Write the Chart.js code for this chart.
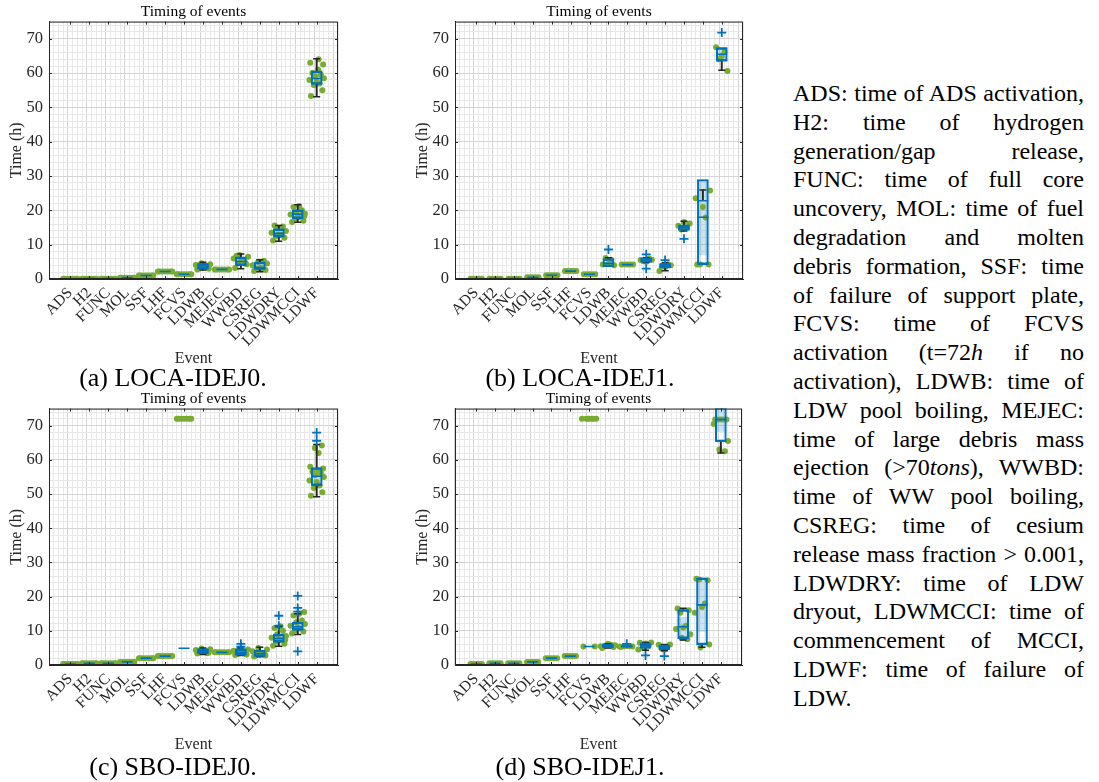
<!DOCTYPE html>
<html>
<head>
<meta charset="utf-8">
<script src="https://cdn.jsdelivr.net/npm/chart.js@4.4.0/dist/chart.umd.min.js"></script>
<style>
  body { margin: 0; background: #fff; width: 1099px; height: 782px; position: relative; overflow: hidden;
         font-family: "Liberation Serif", "Times New Roman", serif; color: #000; }
  canvas { position: absolute; }
  .cap { position: absolute; font-size: 26px; white-space: nowrap; transform: translate(-50%, -50%); }
  #notes { position: absolute; left: 793px; top: 79px; width: 291px; font-size: 24px; line-height: 28.8px; }
  #notes div { text-align: justify; text-align-last: justify; }
  #notes div.last { text-align-last: left; }
</style>
</head>
<body>
<canvas id="pa" width="387" height="368" style="left:0;top:0"></canvas>
<canvas id="pb" width="386" height="368" style="left:406px;top:0"></canvas>
<canvas id="pc" width="387" height="367" style="left:0;top:387px"></canvas>
<canvas id="pd" width="385" height="367" style="left:406px;top:387px"></canvas>

<div class="cap" style="left:173px;top:378px">(a) LOCA-IDEJ0.</div>
<div class="cap" style="left:580px;top:378px">(b) LOCA-IDEJ1.</div>
<div class="cap" style="left:173px;top:767px">(c) SBO-IDEJ0.</div>
<div class="cap" style="left:580px;top:767px">(d) SBO-IDEJ1.</div>

<div id="notes">
  <div>ADS: time of ADS activation,</div>
  <div>H2: time of hydrogen</div>
  <div>generation/gap release,</div>
  <div>FUNC: time of full core</div>
  <div>uncovery, MOL: time of fuel</div>
  <div>degradation and molten</div>
  <div>debris formation, SSF: time</div>
  <div>of failure of support plate,</div>
  <div>FCVS: time of FCVS</div>
  <div>activation (t=72<i>h</i> if no</div>
  <div>activation), LDWB: time of</div>
  <div>LDW pool boiling, MEJEC:</div>
  <div>time of large debris mass</div>
  <div>ejection (&gt;70<i>tons</i>), WWBD:</div>
  <div>time of WW pool boiling,</div>
  <div>CSREG: time of cesium</div>
  <div>release mass fraction &gt; 0.001,</div>
  <div>LDWDRY: time of LDW</div>
  <div>dryout, LDWMCCI: time of</div>
  <div>commencement of MCCI,</div>
  <div>LDWF: time of failure of</div>
  <div class="last">LDW.</div>
</div>

<script>
const EVENTS = ['ADS', 'H2', 'FUNC', 'MOL', 'SSF', 'LHF', 'FCVS', 'LDWB', 'MEJEC', 'WWBD', 'CSREG', 'LDWDRY', 'LDWMCCI', 'LDWF'];

// (a) LOCA-IDEJ0
const aMed = [0.05, 0.1, 0.1, 0.4, 1.0, 2.2, 1.4, 3.8, 2.8, 5.1, 3.3, 13.3, 18.9, 58.4];
const aQ1 = [0.05, 0.1, 0.1, 0.4, 1.0, 2.2, 1.4, 3.0, 2.8, 4.0, 2.9, 12.4, 17.7, 56.9];
const aQ3 = [0.05, 0.1, 0.1, 0.4, 1.0, 2.2, 1.4, 4.4, 2.8, 6.3, 4.8, 14.5, 20.0, 60.5];
const aLo = [0.05, 0.1, 0.1, 0.4, 1.0, 2.2, 1.4, 2.6, 2.8, 3.0, 2.1, 11.0, 16.5, 53.1];
const aHi = [0.05, 0.1, 0.1, 0.4, 1.0, 2.2, 1.4, 4.9, 2.8, 7.3, 5.6, 15.6, 21.6, 64.2];
const aNotch = [0, 0, 0, 0, 0, 0, 0, 0, 0, 0, 0, 0, 0, 1.6];
const aOut = [[], [], [], [], [], [], [], [], [], [], [], [], [], []];
const aPts = [
  [0.05, 0.05, 0.05, 0.05, 0.05, 0.05, 0.05],
  [0.1, 0.1, 0.1, 0.1, 0.1, 0.1, 0.1],
  [0.1, 0.1, 0.1, 0.1, 0.1, 0.1, 0.1],
  [0.4, 0.4, 0.4, 0.4, 0.4, 0.4, 0.4],
  [1.0, 1.0, 1.0, 1.0, 1.0, 1.0, 1.0],
  [2.2, 2.2, 2.2, 2.2, 2.2, 2.2, 2.2],
  [1.4, 1.4, 1.4, 1.4, 1.4, 1.4, 1.4],
  [2.8, 3.0, 3.4, 3.7, 3.9, 4.1, 4.3, 4.6, 3.5, 4.0],
  [2.8, 2.8, 2.8, 2.8, 2.8, 2.8, 2.8],
  [3.2, 4.3, 4.6, 5.0, 5.5, 6.0, 6.5, 7.0, 4.8, 6.8],
  [2.3, 2.6, 2.9, 3.1, 3.3, 4.0, 4.5, 5.0, 5.3, 3.0],
  [11.2, 12.0, 12.5, 12.8, 13.0, 13.5, 14.0, 14.8, 15.3, 15.6, 12.9],
  [16.6, 17.0, 17.5, 18.0, 18.5, 18.8, 19.0, 19.5, 20.0, 21.0, 21.3, 18.3],
  [53.3, 55.0, 56.5, 57.0, 57.5, 58.0, 58.5, 59.0, 59.5, 60.0, 61.0, 62.5, 63.0, 64.0]
];

// (b) LOCA-IDEJ1
const bMed = [0.05, 0.1, 0.1, 0.5, 1.1, 2.3, 1.4, 4.6, 4.2, 5.4, 3.8, 15.0, 18.0, 65.5];
const bQ1 = [0.05, 0.1, 0.1, 0.5, 1.1, 2.3, 1.4, 3.7, 4.2, 5.0, 3.3, 14.3, 4.3, 63.6];
const bQ3 = [0.05, 0.1, 0.1, 0.5, 1.1, 2.3, 1.4, 5.8, 4.2, 6.0, 4.4, 15.6, 22.8, 67.3];
const bLo = [0.05, 0.1, 0.1, 0.5, 1.1, 2.3, 1.4, 3.7, 4.2, 4.8, 2.4, 14.0, 4.3, 60.8];
const bHi = [0.05, 0.1, 0.1, 0.5, 1.1, 2.3, 1.4, 6.2, 4.2, 6.2, 4.7, 16.8, 25.9, 67.3];
const bNotch = [0, 0, 0, 0, 0, 0, 0, 0, 0, 0, 0, 0, 11.0, 1.8];
const bOut = [[], [], [], [], [], [], [], [8.6], [], [7.2, 3.0], [5.5], [11.7], [], [71.8]];
const bPts = [
  [0.05, 0.05, 0.05, 0.05, 0.05],
  [0.1, 0.1, 0.1, 0.1, 0.1],
  [0.1, 0.1, 0.1, 0.1, 0.1],
  [0.5, 0.5, 0.5, 0.5, 0.5],
  [1.1, 1.1, 1.1, 1.1, 1.1],
  [2.3, 2.3, 2.3, 2.3, 2.3],
  [1.4, 1.4, 1.4, 1.4, 1.4],
  [4.2, 4.0, 6.1, 5.6, 4.4],
  [4.2, 4.2, 4.2, 4.2, 4.2],
  [5.5, 5.6, 5.2, 6.0, 5.0],
  [2.3, 4.0, 3.8, 4.3, 3.5],
  [15.5, 16.2, 14.4, 15.0, 16.6],
  [4.2, 4.2, 4.2, 17.9, 21.0, 23.5, 25.8],
  [67.5, 60.6, 64.0, 66.2, 65.0]
];

// (c) SBO-IDEJ0
const cMed = [0.3, 0.5, 0.5, 0.9, 2.0, 2.6, 4.9, 4.0, 3.7, 3.7, 3.3, 7.8, 11.2, 55.2];
const cQ1 = [0.3, 0.5, 0.5, 0.9, 2.0, 2.6, 4.9, 3.4, 3.7, 3.0, 2.6, 6.8, 10.3, 52.6];
const cQ3 = [0.3, 0.5, 0.5, 0.9, 2.0, 2.6, 4.9, 4.6, 3.7, 4.6, 4.2, 8.9, 12.4, 57.6];
const cLo = [0.3, 0.5, 0.5, 0.9, 2.0, 2.6, 4.9, 3.1, 3.7, 2.8, 2.4, 5.5, 8.9, 49.2];
const cHi = [0.3, 0.5, 0.5, 0.9, 2.0, 2.6, 4.9, 5.0, 3.7, 5.0, 5.2, 11.2, 15.0, 64.5];
const cNotch = [0, 0, 0, 0, 0, 0, 0, 0, 0, 0, 0, 0, 0, 2.0];
const cOut = [[], [], [], [], [], [], [], [], [], [6.2, 5.4], [], [11.5, 14.4], [20.2, 16.7, 15.6, 4.0], [68.0, 65.6]];
const cPts = [
  [0.3, 0.3, 0.3, 0.3, 0.3, 0.3, 0.3],
  [0.5, 0.5, 0.5, 0.5, 0.5, 0.5, 0.5],
  [0.5, 0.5, 0.5, 0.5, 0.5, 0.5, 0.5],
  [0.9, 0.9, 0.9, 0.9, 0.9, 0.9, 0.9],
  [2.0, 2.0, 2.0, 2.0, 2.0, 2.0, 2.0],
  [2.6, 2.6, 2.6, 2.6, 2.6, 2.6, 2.6],
  [72, 72, 72, 72, 72, 72, 72],
  [3.4, 3.6, 3.8, 4.0, 4.2, 4.4, 4.6, 4.8, 3.5, 4.1],
  [3.7, 3.7, 3.7, 3.7, 3.7, 3.7, 3.7],
  [2.9, 3.1, 3.3, 3.6, 3.9, 4.2, 4.5, 4.8, 3.5],
  [2.5, 2.8, 3.0, 3.3, 3.6, 4.0, 4.5, 5.0, 3.2],
  [5.6, 6.2, 6.8, 7.2, 7.6, 8.0, 8.5, 9.0, 10.0, 10.8, 11.3, 7.4],
  [9.2, 9.8, 10.2, 10.6, 11.0, 11.5, 12.0, 12.5, 13.0, 14.5, 15.0, 15.5],
  [49.5, 50.5, 51.8, 52.5, 53.5, 54.0, 55.0, 55.5, 56.0, 56.5, 57.0, 57.5, 58.0, 62.0, 63.5, 64.2]
];

// (d) SBO-IDEJ1
const dMed = [0.3, 0.5, 0.5, 0.9, 2.0, 2.6, 5.4, 5.6, 5.5, 5.7, 5.3, 11.2, 17.6, 71.8];
const dQ1 = [0.3, 0.5, 0.5, 0.9, 2.0, 2.6, 5.4, 5.2, 5.3, 5.0, 4.6, 7.8, 6.0, 65.4];
const dQ3 = [0.3, 0.5, 0.5, 0.9, 2.0, 2.6, 5.4, 6.0, 5.6, 6.3, 5.7, 16.1, 25.2, 71.8];
const dLo = [0.3, 0.5, 0.5, 0.9, 2.0, 2.6, 5.4, 5.0, 5.3, 4.3, 4.2, 7.3, 5.2, 62.0];
const dHi = [0.3, 0.5, 0.5, 0.9, 2.0, 2.6, 5.4, 6.2, 5.6, 6.6, 6.0, 16.6, 25.3, 71.8];
const dNotch = [0, 0, 0, 0, 0, 0, 0, 0, 0, 0, 0, 2.7, 7.8, 3.5];
const dOut = [[], [], [], [], [], [], [], [], [6.2], [2.8], [2.6], [], [], []];
const dPts = [
  [0.3, 0.3, 0.3, 0.3, 0.3],
  [0.5, 0.5, 0.5, 0.5, 0.5],
  [0.5, 0.5, 0.5, 0.5, 0.5],
  [0.9, 0.9, 0.9, 0.9, 0.9],
  [2.0, 2.0, 2.0, 2.0, 2.0],
  [2.6, 2.6, 2.6, 2.6, 2.6],
  [5.4, 5.4, 72, 72, 72, 72, 72, 72, 72],
  [5.0, 5.3, 5.6, 5.9, 6.2, 5.5, 5.8],
  [5.3, 5.4, 5.5, 5.5, 5.6, 5.4],
  [6.5, 6.6, 5.0, 5.6, 6.3, 4.5],
  [5.9, 6.0, 4.8, 5.3, 4.5],
  [16.5, 16.0, 15.3, 11.5, 11.0, 10.5, 9.0, 8.0, 7.5],
  [25.2, 24.8, 25.0, 18.0, 17.0, 15.3, 6.0, 5.1],
  [71.8, 71.8, 71.8, 71.8, 71.8, 70.5, 65.5, 63.0, 62.5]
];

// horizontal spread of the swarm dots, in category units
const JIT = [-0.3, 0.3, -0.15, 0.15, 0, -0.38, 0.38, -0.08, 0.22, -0.22, 0.08, 0.34, -0.34, 0.1, -0.1, 0.27];

const SERIF = '"Liberation Serif", "Times New Roman", serif';
const INK = '#262626';
const BLUE = '#0072BD';
const GREEN = '#77AC30';

// axes box with inward tick marks, like the original figure
const axesBox = {
  id: 'axesBox',
  afterDraw(chart) {
    const { ctx, chartArea: a, scales } = chart;
    ctx.save();
    ctx.strokeStyle = INK;
    ctx.lineWidth = 1;
    ctx.strokeRect(a.left + 0.5, a.top + 0.5, a.width - 1, a.height - 1);
    ctx.beginPath();
    for (let i = 1; i <= EVENTS.length; i++) {
      const px = Math.round(scales.x.getPixelForValue(i)) + 0.5;
      ctx.moveTo(px, a.bottom); ctx.lineTo(px, a.bottom - 3);
      ctx.moveTo(px, a.top); ctx.lineTo(px, a.top + 3);
    }
    for (let v = 0; v <= 70; v += 10) {
      const py = Math.round(scales.y.getPixelForValue(v)) + 0.5;
      ctx.moveTo(a.left, py); ctx.lineTo(a.left + 3, py);
      ctx.moveTo(a.right, py); ctx.lineTo(a.right - 3, py);
    }
    ctx.stroke();
    ctx.restore();
  }
};

function gridColor(isMajor) {
  return c => (c.tick && isMajor(c.tick.value)) ? '#d4d4d4' : '#e8e8e8';
}

function drawPanel(id, d) {
  const shade = [], frame = [], wLow = [], wHigh = [], caps = [], quart = [], mids = [], outs = [], dots = [];
  EVENTS.forEach((e, i) => {
    const x = i + 1;
    const q1 = d.q1[i], q3 = d.q3[i], m = d.med[i], n = d.notch[i];
    const nLo = n ? m - n : q1, nHi = n ? m + n : q3;
    const bot = Math.min(q1, nLo), top = Math.max(q3, nHi);
    if (top > bot) {
      frame.push({ x, y: [bot, top] });
      shade.push({ x, y: [nLo, nHi] });
      quart.push({ x, y: q1 }, { x, y: q3 });
    }
    if (d.lo[i] < q1) { wLow.push({ x, y: [d.lo[i], q1] }); caps.push({ x, y: d.lo[i] }); }
    if (d.hi[i] > q3) { wHigh.push({ x, y: [q3, d.hi[i]] }); caps.push({ x, y: d.hi[i] }); }
    mids.push({ x, y: m });
    d.out[i].forEach(v => outs.push({ x, y: v }));
    d.pts[i].forEach((v, k) => dots.push({ x: x + JIT[k % JIT.length], y: v }));
  });

  const bar = (data, extra) => Object.assign({
    type: 'bar', data, grouped: false, borderSkipped: false, barThickness: 11
  }, extra);
  const mark = (data, extra) => Object.assign({ type: 'scatter', data, borderWidth: 0 }, extra);

  const axisFont = { family: SERIF, size: 16 };

  new Chart(document.getElementById(id), {
    type: 'scatter',
    data: {
      datasets: [
        mark(outs, { order: 1, pointStyle: 'cross', radius: 4.5, borderWidth: 1.8, borderColor: BLUE }),
        mark(mids, { order: 2, pointStyle: 'line', radius: 5.5, borderWidth: 1.6, borderColor: BLUE }),
        mark(quart, { order: 2, pointStyle: 'line', radius: 5.5, borderWidth: 1.4, borderColor: BLUE }),
        bar(frame, { order: 3, backgroundColor: 'rgba(0,0,0,0)', borderColor: BLUE, borderWidth: 1.4 }),
        mark(caps, { order: 4, pointStyle: 'line', radius: 3.5, borderWidth: 1.5, borderColor: INK }),
        bar(wLow, { order: 5, barThickness: 1.3, backgroundColor: INK, borderWidth: 0 }),
        bar(wHigh, { order: 5, barThickness: 1.3, backgroundColor: INK, borderWidth: 0 }),
        mark(dots, { order: 6, pointStyle: 'circle', radius: 3, backgroundColor: GREEN }),
        bar(shade, { order: 7, backgroundColor: 'rgba(0,114,189,0.2)', borderWidth: 0 })
      ]
    },
    options: {
      responsive: false,
      animation: false,
      events: [],
      plugins: {
        legend: { display: false },
        tooltip: { enabled: false },
        title: {
          display: true, text: 'Timing of events', color: '#000',
          font: { family: SERIF, size: 15.5, weight: 'normal' }, padding: { top: 3, bottom: 0 }
        }
      },
      scales: {
        x: {
          type: 'linear', min: 0, max: 15,
          afterFit: s => { s.height = 89; },
          afterBuildTicks: s => { s.ticks = Array.from({ length: 61 }, (_, k) => ({ value: k * 0.25 })); },
          ticks: {
            autoSkip: false, minRotation: 45, maxRotation: 45, padding: 5, color: INK,
            font: { family: SERIF, size: 15.5 },
            callback: v => (Number.isInteger(v) && v >= 1 && v <= EVENTS.length) ? EVENTS[v - 1] : ''
          },
          grid: { drawTicks: false, lineWidth: 1, color: gridColor(v => Number.isInteger(v)) },
          border: { color: INK },
          title: { display: true, text: 'Event', color: INK, font: axisFont, padding: { top: 0, bottom: 0 } }
        },
        y: {
          min: 0, max: 75,
          afterFit: s => { s.width = 49; },
          afterBuildTicks: s => {
            const t = [];
            for (let v = 0; v <= 74; v += 2) t.push({ value: v });
            t.push({ value: 75 });
            s.ticks = t;
          },
          ticks: { autoSkip: false, padding: 6, color: INK, font: { family: SERIF, size: 16.5 }, callback: v => v % 10 === 0 ? v : '' },
          grid: { drawTicks: false, lineWidth: 1, color: gridColor(v => v % 10 === 0) },
          border: { color: INK },
          title: { display: true, text: 'Time (h)', color: INK, font: axisFont, padding: { top: 7, bottom: 0 } }
        },
        // empty right-hand strip so the title centres over the plot
        yPad: {
          type: 'linear', position: 'right', display: true, min: 0, max: 75,
          afterFit: s => { s.width = 49; },
          ticks: { display: false }, grid: { display: false }, border: { display: false }
        }
      }
    },
    plugins: [axesBox]
  });
}

drawPanel('pa', { q1: aQ1, med: aMed, q3: aQ3, lo: aLo, hi: aHi, notch: aNotch, out: aOut, pts: aPts });
drawPanel('pb', { q1: bQ1, med: bMed, q3: bQ3, lo: bLo, hi: bHi, notch: bNotch, out: bOut, pts: bPts });
drawPanel('pc', { q1: cQ1, med: cMed, q3: cQ3, lo: cLo, hi: cHi, notch: cNotch, out: cOut, pts: cPts });
drawPanel('pd', { q1: dQ1, med: dMed, q3: dQ3, lo: dLo, hi: dHi, notch: dNotch, out: dOut, pts: dPts });
</script>
</body>
</html>
